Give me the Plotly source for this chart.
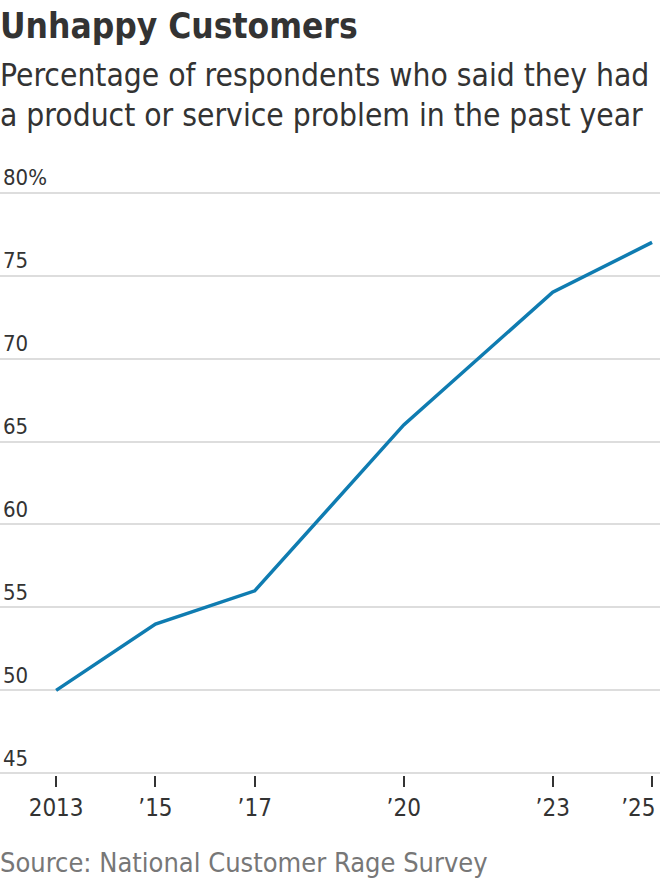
import plotly.graph_objects as go

years = [2013, 2015, 2017, 2020, 2023, 2025]
values = [50, 54, 56, 66, 74, 77]
xtick_vals = [2013, 2015, 2017, 2020, 2023, 2025]
xtick_text = ["2013", "\u201915", "\u201917", "\u201920", "\u201923", "\u201925\u00a0\u00a0\u00a0\u00a0"]
ytick_vals = [45, 50, 55, 60, 65, 70, 75, 80]
ytick_text = ["45", "50", "55", "60", "65", "70", "75", "80%"]

FONT = "DejaVu Sans Condensed, Liberation Sans Narrow, Roboto, sans-serif"
T, B = 191, 105
H = 880
PH = H - T - B

def py(pix):
    return (H - B - pix) / PH

fig = go.Figure()
fig.add_trace(go.Scatter(x=years, y=values, mode="lines",
                         line=dict(color="#0f7cb1", width=3.5),
                         hoverinfo="skip", showlegend=False))

fig.update_layout(
    width=660, height=880,
    margin=dict(l=0, r=0, t=T, b=B, pad=0),
    paper_bgcolor="white", plot_bgcolor="white",
    font=dict(family=FONT, color="#333333"),
    xaxis=dict(range=[2011.87, 2025.16], tickvals=xtick_vals, ticktext=xtick_text,
               ticks="outside", ticklen=11, tickwidth=1.5, tickcolor="#333333",
               showgrid=False, zeroline=False, showline=False, automargin=False,
               ticklabeloverflow="allow",
               tickfont=dict(size=24, color="#333333"), fixedrange=True),
    yaxis=dict(range=[44.9, 80.1], tickvals=ytick_vals, ticktext=ytick_text,
               ticklabelposition="inside top", ticklabeloverflow="allow",
               showgrid=True, gridcolor="#dddddd", gridwidth=1.5, automargin=False,
               zeroline=False, showline=False, ticks="",
               tickfont=dict(size=22, color="#333333"), fixedrange=True),
)

fig.add_annotation(text="<b>Unhappy Customers</b>", xref="paper", yref="paper",
                   x=0, y=py(4), xanchor="left", yanchor="top", showarrow=False,
                   font=dict(size=35, color="#333333", family=FONT), xshift=-2)
fig.add_annotation(text="Percentage of respondents who said they had", xref="paper", yref="paper",
                   x=0, y=py(55), xanchor="left", yanchor="top", showarrow=False,
                   font=dict(size=31.5, color="#333333", family=FONT), xshift=-2)
fig.add_annotation(text="a product or service problem in the past year", xref="paper", yref="paper",
                   x=0, y=py(95), xanchor="left", yanchor="top", showarrow=False,
                   font=dict(size=31.5, color="#333333", family=FONT), xshift=-2)
fig.add_annotation(text="Source: National Customer Rage Survey", xref="paper", yref="paper",
                   x=0, y=py(845), xanchor="left", yanchor="top", showarrow=False,
                   font=dict(size=27, color="#777777", family=FONT), xshift=-2)

fig.write_html("out.html", config={"displayModeBar": False},
               post_script="document.body.style.margin='0px';document.body.style.padding='0px';")
